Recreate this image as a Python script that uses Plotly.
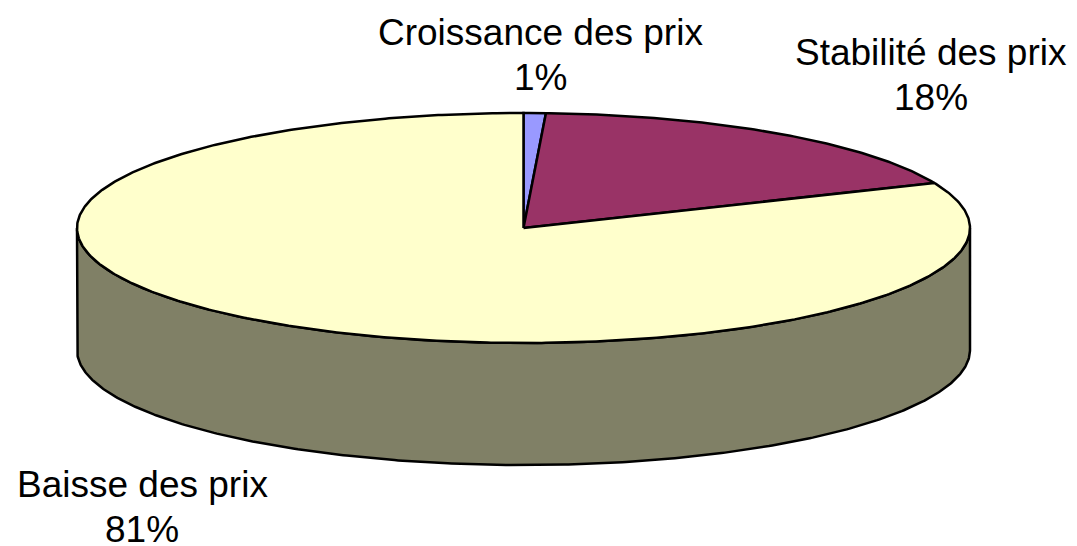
import numpy as np
import plotly.graph_objects as go

# ---- data ----
categories = ["Croissance des prix", "Stabilité des prix", "Baisse des prix"]
values = [0.8, 17.8, 81.4]

# ---- styles ----
top_colors = ["#9999FF", "#993366", "#FFFFCC"]
side_colors = ["#4D4D80", "#4D1A33", "#808066"]
FONT = "Liberation Sans, Arial, Helvetica, sans-serif"
FS = 37
LW = 2.5

# ---- geometry of the 3D pie (pixel space of the browser window) ----
W, H = 1077, 546
OFF = 8  # page body margin
CX, CY, RX, RY, DEPTH = 523.5, 228.0, 446.5, 115.0, 122.0

def pts(a0, a1, n=200, dy=0.0):
    t = np.radians(np.linspace(a0, a1, max(2, int(n))))
    return CX + RX * np.sin(t), CY - RY * np.cos(t) + dy

total = float(sum(values))
angles = np.concatenate([[0.0], np.cumsum(values) / total * 360.0])

fig = go.Figure()

# side walls (front half visible: 90..270 degrees clockwise from top)
for i in range(len(values)):
    lo, hi = max(angles[i], 90.0), min(angles[i + 1], 270.0)
    if hi <= lo:
        continue
    n = max(2, int((hi - lo) * 2))
    xt, yt = pts(lo, hi, n)
    xb, yb = pts(hi, lo, n, DEPTH)
    xs = np.concatenate([xt, xb, xt[:1]])
    ys = np.concatenate([yt, yb, yt[:1]])
    fig.add_trace(go.Scatter(x=xs, y=ys, mode="lines", fill="toself",
                             fillcolor=side_colors[i],
                             line=dict(color="black", width=LW),
                             hoverinfo="skip", showlegend=False))

# top faces
for i in range(len(values)):
    a0, a1 = angles[i], angles[i + 1]
    n = max(2, int((a1 - a0) * 2))
    xa, ya = pts(a0, a1, n)
    xs = np.concatenate([[CX], xa, [CX]])
    ys = np.concatenate([[CY], ya, [CY]])
    fig.add_trace(go.Scatter(x=xs, y=ys, mode="lines", fill="toself",
                             fillcolor=top_colors[i],
                             line=dict(color="black", width=LW),
                             hoverinfo="skip", showlegend=False))

# labels: (x centre, y centre of name line, y centre of percent line)
label_pos = [(540, 32, 77), (931, 52, 97), (142, 484, 529)]
for i, cat in enumerate(categories):
    lx, ly1, ly2 = label_pos[i]
    pct = f"{round(values[i] / total * 100):d}%"
    for txt, yy in ((cat, ly1), (pct, ly2)):
        fig.add_annotation(x=lx, y=yy, text=txt, showarrow=False,
                           xanchor="center", yanchor="middle",
                           font=dict(family=FONT, size=FS, color="black"))

fig.update_layout(
    width=W, height=H,
    margin=dict(l=0, r=0, t=0, b=0),
    paper_bgcolor="white", plot_bgcolor="white",
    xaxis=dict(range=[OFF, W + OFF], visible=False, fixedrange=True),
    yaxis=dict(range=[H + OFF, OFF], visible=False, fixedrange=True),
    showlegend=False,
)

fig.write_html("out.html")
